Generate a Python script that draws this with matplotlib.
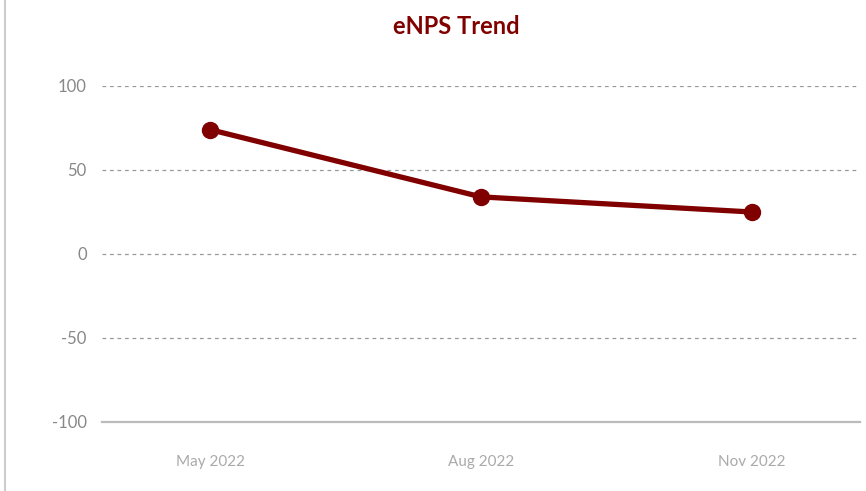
import matplotlib.pyplot as plt
from matplotlib.lines import Line2D

months = ['May 2022', 'Aug 2022', 'Nov 2022']
enps = [74, 34, 25]
y_ticks = [-100, -50, 0, 50, 100]

plt.rcParams['font.family'] = ['Lato', 'DejaVu Sans']

fig = plt.figure(figsize=(8.66, 4.91), dpi=100)
ax = fig.add_axes([102 / 866, 1 - 422 / 491, (860 - 102) / 866, (422 - 86) / 491])

x = list(range(len(months)))
ax.plot(x, enps, color='#800000', linewidth=3.8, marker='o', markersize=11.5, zorder=3)

ax.set_xlim(-0.4, 2.4)
ax.set_ylim(-100, 100)
ax.set_yticks(y_ticks)
ax.set_yticklabels([str(v) for v in y_ticks])
ax.set_xticks(x)
ax.set_xticklabels(months)

for v in y_ticks[1:]:
    ax.axhline(v, color='#999999', linewidth=0.9, linestyle=(0, (3, 3)), zorder=1)

for s in ['top', 'right', 'left']:
    ax.spines[s].set_visible(False)
ax.spines['bottom'].set_color('#bbbbbb')
ax.spines['bottom'].set_linewidth(1.6)

ax.tick_params(axis='y', length=0, pad=11, labelsize=12, labelcolor='#888888')
ax.tick_params(axis='x', length=0, pad=24, labelsize=11, labelcolor='#aaaaaa')

fig.text(456 / 866, 1 - 26 / 491, 'eNPS Trend', ha='center', va='center',
         fontsize=17, fontweight='bold', color='#800000')

fig.add_artist(Line2D([5 / 866, 5 / 866], [0, 1], color='#cccccc', linewidth=1.5))

fig.savefig('out.png', dpi=100)
